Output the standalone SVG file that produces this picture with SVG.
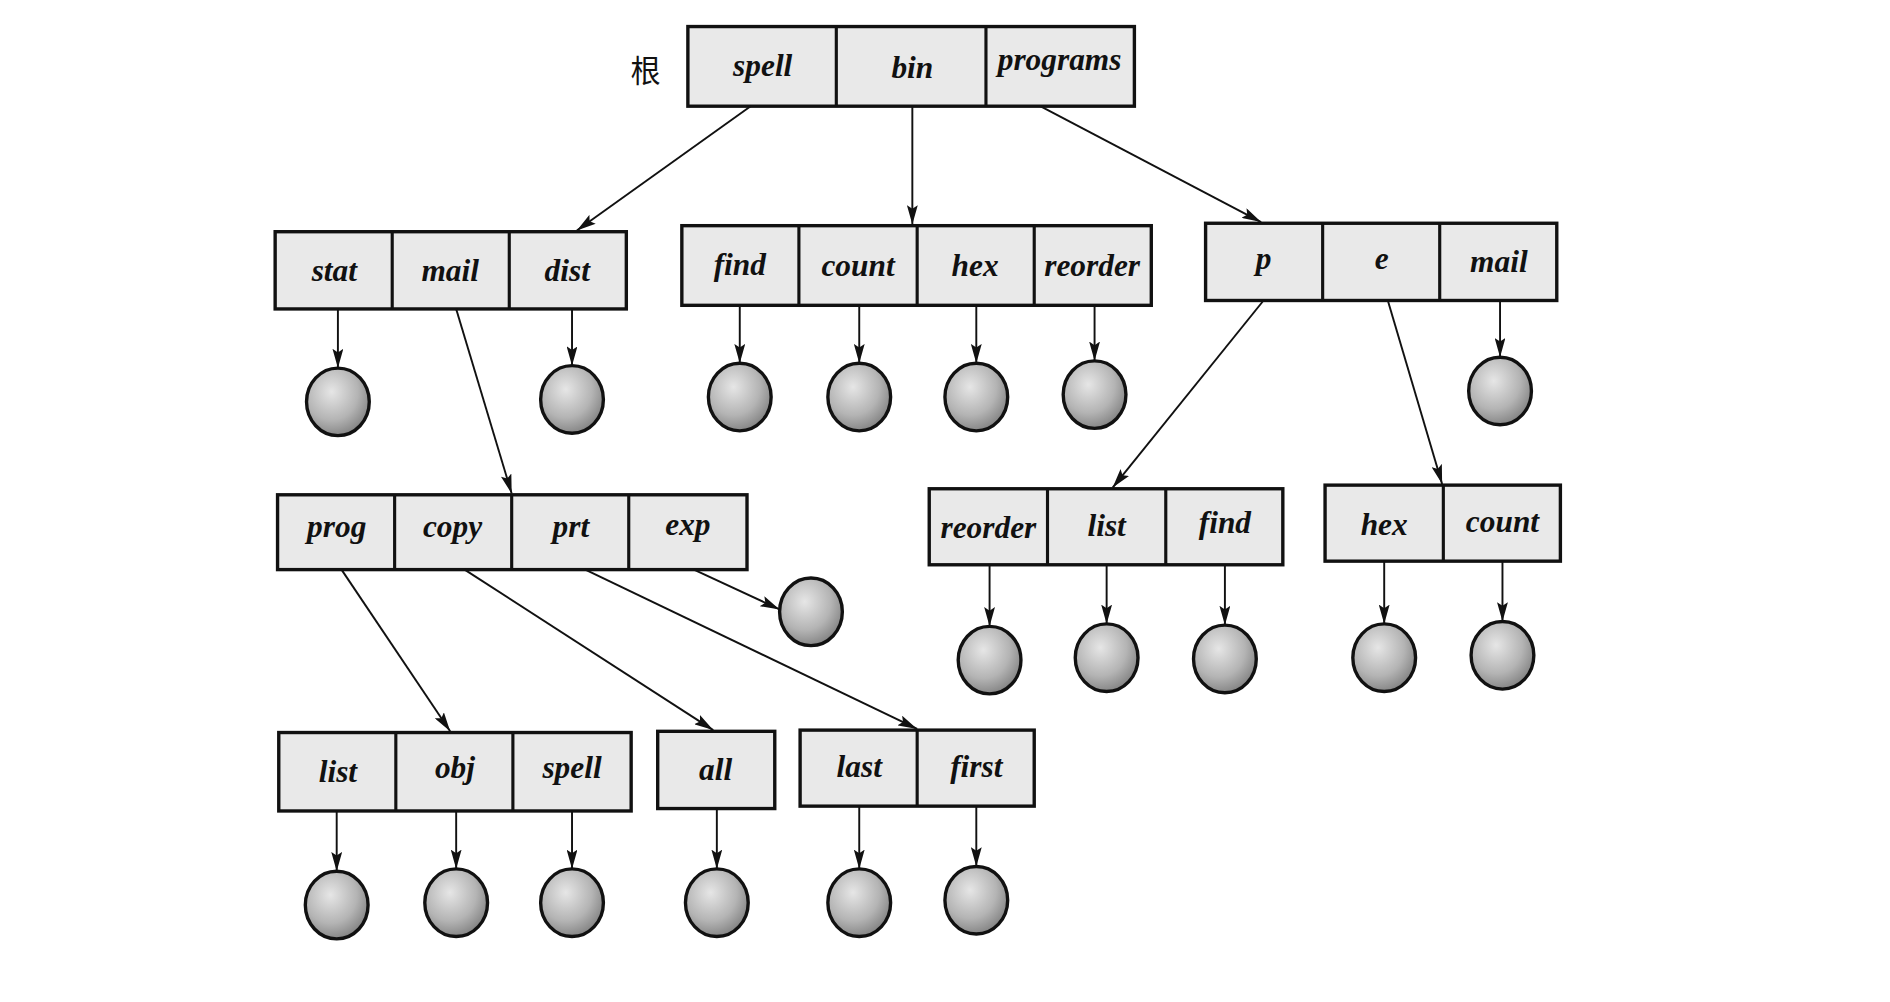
<svg xmlns="http://www.w3.org/2000/svg" width="1890" height="1002" viewBox="0 0 1890 1002">
<defs>
<style>
.box{fill:#e9e9e9;stroke:#111;stroke-width:2.8}
.div{stroke:#111;stroke-width:2.6}
.lbl{font-family:"Liberation Serif",serif;font-style:italic;font-weight:bold;font-size:26px;fill:#111;text-anchor:middle}
.leaf{fill:url(#g);stroke:#111;stroke-width:2.8}
.con line{stroke:#111;stroke-width:1.6;marker-end:url(#ah)}
</style>
<radialGradient id="g" cx="0.4" cy="0.35" r="0.7">
<stop offset="0" stop-color="#e6e6e6"/>
<stop offset="0.6" stop-color="#b4b4b4"/>
<stop offset="1" stop-color="#7e7e7e"/>
</radialGradient>
<marker id="ah" markerUnits="userSpaceOnUse" markerWidth="16" markerHeight="9" refX="16" refY="4.5" orient="auto">
<path d="M0,0 L16,4.5 L0,9 L3,4.5 z" fill="#111"/>
</marker>
</defs>
<rect width="1890" height="1002" fill="#fff"/>
<g transform="scale(1.2068)">
<text x="535" y="68" style="font-family:'Noto Sans CJK SC',sans-serif;font-size:25px;fill:#111" text-anchor="middle">根</text>

<g id="root">
<rect class="box" x="570" y="22" width="370" height="66"/>
<line class="div" x1="693" y1="22" x2="693" y2="88"/><line class="div" x1="817" y1="22" x2="817" y2="88"/>
<text class="lbl" x="632" y="63">spell</text><text class="lbl" x="756" y="65">bin</text><text class="lbl" x="878" y="58">programs</text>
</g>

<g id="spell">
<rect class="box" x="228" y="192" width="291" height="64"/>
<line class="div" x1="325" y1="192" x2="325" y2="256"/><line class="div" x1="422" y1="192" x2="422" y2="256"/>
<text class="lbl" x="277" y="233">stat</text><text class="lbl" x="373" y="233">mail</text><text class="lbl" x="470" y="233">dist</text>
</g>

<g id="bin">
<rect class="box" x="565" y="187" width="389" height="66"/>
<line class="div" x1="662" y1="187" x2="662" y2="253"/><line class="div" x1="760" y1="187" x2="760" y2="253"/><line class="div" x1="857" y1="187" x2="857" y2="253"/>
<text class="lbl" x="613" y="228">find</text><text class="lbl" x="711" y="229">count</text><text class="lbl" x="808" y="229">hex</text><text class="lbl" x="905" y="229">reorder</text>
</g>

<g id="programs">
<rect class="box" x="999" y="185" width="291" height="64"/>
<line class="div" x1="1096" y1="185" x2="1096" y2="249"/><line class="div" x1="1193" y1="185" x2="1193" y2="249"/>
<text class="lbl" x="1047" y="223">p</text><text class="lbl" x="1145" y="223">e</text><text class="lbl" x="1242" y="225">mail</text>
</g>

<g id="mail">
<rect class="box" x="230" y="410" width="389" height="62"/>
<line class="div" x1="327" y1="410" x2="327" y2="472"/><line class="div" x1="424" y1="410" x2="424" y2="472"/><line class="div" x1="521" y1="410" x2="521" y2="472"/>
<text class="lbl" x="279" y="445">prog</text><text class="lbl" x="375" y="445">copy</text><text class="lbl" x="473" y="445">prt</text><text class="lbl" x="570" y="443">exp</text>
</g>

<g id="p">
<rect class="box" x="770" y="405" width="293" height="63"/>
<line class="div" x1="868" y1="405" x2="868" y2="468"/><line class="div" x1="966" y1="405" x2="966" y2="468"/>
<text class="lbl" x="819" y="446">reorder</text><text class="lbl" x="917" y="444">list</text><text class="lbl" x="1015" y="442">find</text>
</g>

<g id="e">
<rect class="box" x="1098" y="402" width="195" height="63"/>
<line class="div" x1="1196" y1="402" x2="1196" y2="465"/>
<text class="lbl" x="1147" y="443">hex</text><text class="lbl" x="1245" y="441">count</text>
</g>

<g id="prog">
<rect class="box" x="231" y="607" width="292" height="65"/>
<line class="div" x1="328" y1="607" x2="328" y2="672"/><line class="div" x1="425" y1="607" x2="425" y2="672"/>
<text class="lbl" x="280" y="648">list</text><text class="lbl" x="377" y="645">obj</text><text class="lbl" x="474" y="645">spell</text>
</g>

<g id="copy">
<rect class="box" x="545" y="606" width="97" height="64"/>
<text class="lbl" x="593" y="646">all</text>
</g>

<g id="prt">
<rect class="box" x="663" y="605" width="194" height="63"/>
<line class="div" x1="760" y1="605" x2="760" y2="668"/>
<text class="lbl" x="712" y="644">last</text><text class="lbl" x="809" y="644">first</text>
</g>

<g id="leaves">
<ellipse class="leaf" cx="280" cy="333" rx="26" ry="28"/>
<ellipse class="leaf" cx="474" cy="331" rx="26" ry="28"/>
<ellipse class="leaf" cx="613" cy="329" rx="26" ry="28"/>
<ellipse class="leaf" cx="712" cy="329" rx="26" ry="28"/>
<ellipse class="leaf" cx="809" cy="329" rx="26" ry="28"/>
<ellipse class="leaf" cx="907" cy="327" rx="26" ry="28"/>
<ellipse class="leaf" cx="1243" cy="324" rx="26" ry="28"/>
<ellipse class="leaf" cx="672" cy="507" rx="26" ry="28"/>
<ellipse class="leaf" cx="820" cy="547" rx="26" ry="28"/>
<ellipse class="leaf" cx="917" cy="545" rx="26" ry="28"/>
<ellipse class="leaf" cx="1015" cy="546" rx="26" ry="28"/>
<ellipse class="leaf" cx="1147" cy="545" rx="26" ry="28"/>
<ellipse class="leaf" cx="1245" cy="543" rx="26" ry="28"/>
<ellipse class="leaf" cx="279" cy="750" rx="26" ry="28"/>
<ellipse class="leaf" cx="378" cy="748" rx="26" ry="28"/>
<ellipse class="leaf" cx="474" cy="748" rx="26" ry="28"/>
<ellipse class="leaf" cx="594" cy="748" rx="26" ry="28"/>
<ellipse class="leaf" cx="712" cy="748" rx="26" ry="28"/>
<ellipse class="leaf" cx="809" cy="746" rx="26" ry="28"/>
</g>

<g id="connectors" class="con">
<line x1="622" y1="88" x2="478" y2="191"/>
<line x1="756" y1="88" x2="756" y2="186"/>
<line x1="862" y1="88" x2="1045" y2="184"/>
<line x1="280" y1="256" x2="280" y2="305"/>
<line x1="474" y1="256" x2="474" y2="303"/>
<line x1="613" y1="253" x2="613" y2="301"/>
<line x1="712" y1="253" x2="712" y2="301"/>
<line x1="809" y1="253" x2="809" y2="301"/>
<line x1="907" y1="253" x2="907" y2="299"/>
<line x1="1243" y1="249" x2="1243" y2="296"/>
<line x1="378" y1="256" x2="424" y2="409"/>
<line x1="1047" y1="249" x2="922" y2="404"/>
<line x1="1150" y1="249" x2="1195" y2="401"/>
<line x1="575" y1="472" x2="646" y2="505"/>
<line x1="283" y1="472" x2="373" y2="606"/>
<line x1="385" y1="472" x2="591" y2="605"/>
<line x1="485" y1="472" x2="760" y2="604"/>
<line x1="820" y1="468" x2="820" y2="519"/>
<line x1="917" y1="468" x2="917" y2="517"/>
<line x1="1015" y1="468" x2="1015" y2="518"/>
<line x1="1147" y1="465" x2="1147" y2="517"/>
<line x1="1245" y1="465" x2="1245" y2="515"/>
<line x1="279" y1="672" x2="279" y2="722"/>
<line x1="378" y1="672" x2="378" y2="720"/>
<line x1="474" y1="672" x2="474" y2="720"/>
<line x1="594" y1="670" x2="594" y2="720"/>
<line x1="712" y1="668" x2="712" y2="720"/>
<line x1="809" y1="668" x2="809" y2="718"/>
</g>
</g>
</svg>
